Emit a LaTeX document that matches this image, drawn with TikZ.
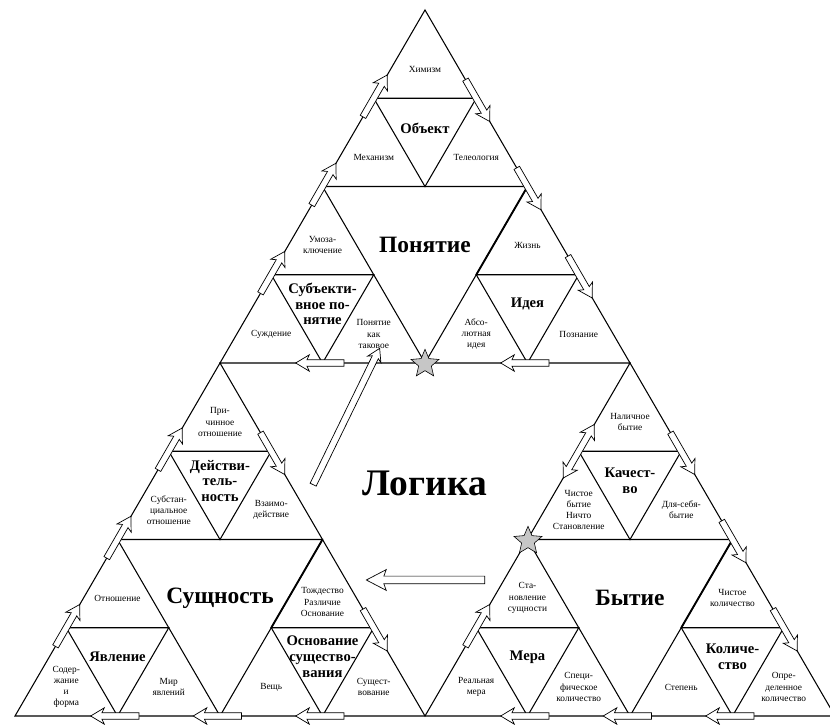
\documentclass[tikz,border=0pt]{standalone}
\usepackage{fontspec}
\setmainfont{Liberation Serif}
\usetikzlibrary{shapes.arrows,shapes.geometric}

\begin{document}
\begin{tikzpicture}[x=0.3mm,y=0.3mm,line width=0.9pt,
  every node/.style={align=center,inner sep=0.5pt},
  small/.style={font=\fontsize{8pt}{9.6pt}\selectfont},
  mid/.style={font=\fontsize{12.5pt}{13.5pt}\selectfont\bfseries},
  big/.style={font=\fontsize{20pt}{22pt}\selectfont\bfseries},
  flow/.style={single arrow,draw,fill=white,line width=0.6pt,inner sep=0.85mm,
    minimum height=14.5mm,single arrow head extend=1.5mm,
    single arrow tip angle=62,single arrow head indent=0.7mm},
  flowboth/.style={double arrow,draw,fill=white,line width=0.6pt,inner sep=0.85mm,
    minimum height=18.5mm,double arrow head extend=1.5mm,
    double arrow tip angle=62,double arrow head indent=0.7mm},
  endstar/.style={star,star points=5,star point ratio=2.2,draw,fill=gray!45,
    line width=0.5pt,minimum size=8.8mm,inner sep=0pt}]
  \useasboundingbox (0,0) rectangle (830,724);
  % outer triangle
  \draw (15,8) -- (835,8) -- (425,714) -- cycle;
  % inner triangles: x/y = lower left corner, a = side, b = height
  \foreach \x/\y/\a/\b in {15/8/820/706,
      15/8/410/353, 425/8/410/353, 220/361/410/353,
      15/8/205/176.5, 220/8/205/176.5, 117.5/184.5/205/176.5,
      425/8/205/176.5, 630/8/205/176.5, 527.5/184.5/205/176.5,
      220/361/205/176.5, 425/361/205/176.5, 322.5/537.5/205/176.5}
    \draw ({\x+\a/4},{\y+\b/2}) -- ({\x+3*\a/4},{\y+\b/2}) -- ({\x+\a/2},\y) -- cycle;
  \foreach \x/\y in {527.5/537.5, 322.5/184.5, 732.5/184.5}
    \draw[line width=1.6pt] (\x,\y) -- ({\x-51.25},{\y-88.25});

  % Понятие
  \node[small] (chemism)   at (425,655)    {Химизм};
  \node[mid]   (object)    at (425,596)    {Объект};
  \node[small] (mechanism) at (373.75,567) {Механизм};
  \node[small] (teleology) at (476.25,567) {Телеология};
  \node[small] (syllogism) at (322.5,479)  {Умоза-\\ключение};
  \node[mid]   (subjconc)  at (322.5,420)  {Субъекти-\\вное по-\\нятие};
  \node[small] (judgement) at (271.25,390) {Суждение};
  \node[small] (concept)   at (373.75,390) {Понятие\\как\\таковое};
  \node[small] (life)      at (527.5,479)  {Жизнь};
  \node[mid]   (idea)      at (527.5,420)  {Идея};
  \node[small] (absidea)   at (476.25,390) {Абсо-\\лютная\\идея};
  \node[small] (cognition) at (578.75,390) {Познание};
  % Сущность
  \node[small] (causal)    at (220,302)    {При-\\чинное\\отношение};
  \node[mid]   (actuality) at (220,243)    {Действи-\\тель-\\ность};
  \node[small] (substrel)  at (168.75,214) {Субстан-\\циальное\\отношение};
  \node[small] (reciproc)  at (271.25,214) {Взаимо-\\действие};
  \node[small] (relation)  at (117.5,126)  {Отношение};
  \node[mid]   (appear)    at (117.5,67)   {Явление};
  \node[small] (content)   at (66.25,37)   {Содер-\\жание\\и\\форма};
  \node[small] (world)     at (168.75,37)  {Мир\\явлений};
  \node[small] (identity)  at (322.5,122)  {Тождество\\Различие\\Основание};
  \node[mid]   (ground)    at (322.5,67)   {Основание\\существо-\\вания};
  \node[small] (thing)     at (271.25,37)  {Вещь};
  \node[small] (existence) at (373.75,37)  {Сущест-\\вование};
  % Бытие
  \node[small] (dasein)    at (630,302)    {Наличное\\бытие};
  \node[mid]   (quality)   at (630,243)    {Качест-\\во};
  \node[small] (purebeing) at (578.75,214) {Чистое\\бытие\\Ничто\\Становление};
  \node[small] (forself)   at (681.25,214) {Для-себя-\\бытие};
  \node[small] (becoming)  at (527.5,126)  {Ста-\\новление\\сущности};
  \node[mid]   (measure)   at (527.5,67)   {Мера};
  \node[small] (realmeas)  at (476.25,37)  {Реальная\\мера};
  \node[small] (specquant) at (578.75,37)  {Специ-\\фическое\\количество};
  \node[small] (purequant) at (732.5,126)  {Чистое\\количество};
  \node[mid]   (quantity)  at (732.5,67)   {Количе-\\ство};
  \node[small] (degree)    at (681.25,37)  {Степень};
  \node[small] (quantum)   at (783.75,37)  {Опре-\\деленное\\количество};

  \node[big] (conc)    at (425,479) {Понятие};
  \node[big] (essence) at (220,126) {Сущность};
  \node[big] (being)   at (630,126) {Бытие};
  \node[font=\fontsize{32pt}{34pt}\selectfont\bfseries] (logic) at (425,241) {Логика};

  % arrows on the edges
  \foreach \x/\y [count=\i] in {66.25/96.25, 117.5/184.5, 168.75/272.75, 271.25/449.25,
      322.5/537.5, 373.75/625.75, 476.25/96.25}
    \node[flow,rotate=60] (up\i) at (\x,\y) {};
  \foreach \x/\y [count=\i] in {783.75/96.25, 732.5/184.5, 681.25/272.75, 578.75/449.25,
      527.5/537.5, 476.25/625.75, 271.25/272.75, 373.75/96.25}
    \node[flow,rotate=-60] (down\i) at (\x,\y) {};
  \foreach \x/\y [count=\i] in {117.5/8, 220/8, 322.5/8, 527.5/8, 630/8, 732.5/8,
      322.5/361, 527.5/361}
    \node[flow,rotate=180] (left\i) at (\x,\y) {};
  \node[flowboth,rotate=60] (start) at (578.75,272.75) {};
  \node[endstar] (star1) at (425,360) {};
  \node[endstar] (star2) at (528,183) {};

  % arrows inside
  \node[flow,rotate=64,anchor=tail,minimum height=45.5mm,inner sep=0.9mm,
    single arrow head extend=1.2mm] (toconc) at (313,239) {};
  \node[flow,rotate=180,anchor=tail,minimum height=35.5mm,inner sep=1.05mm,
    single arrow head extend=1.95mm,single arrow tip angle=55] (toessence) at (485,144) {};
\end{tikzpicture}
\end{document}
